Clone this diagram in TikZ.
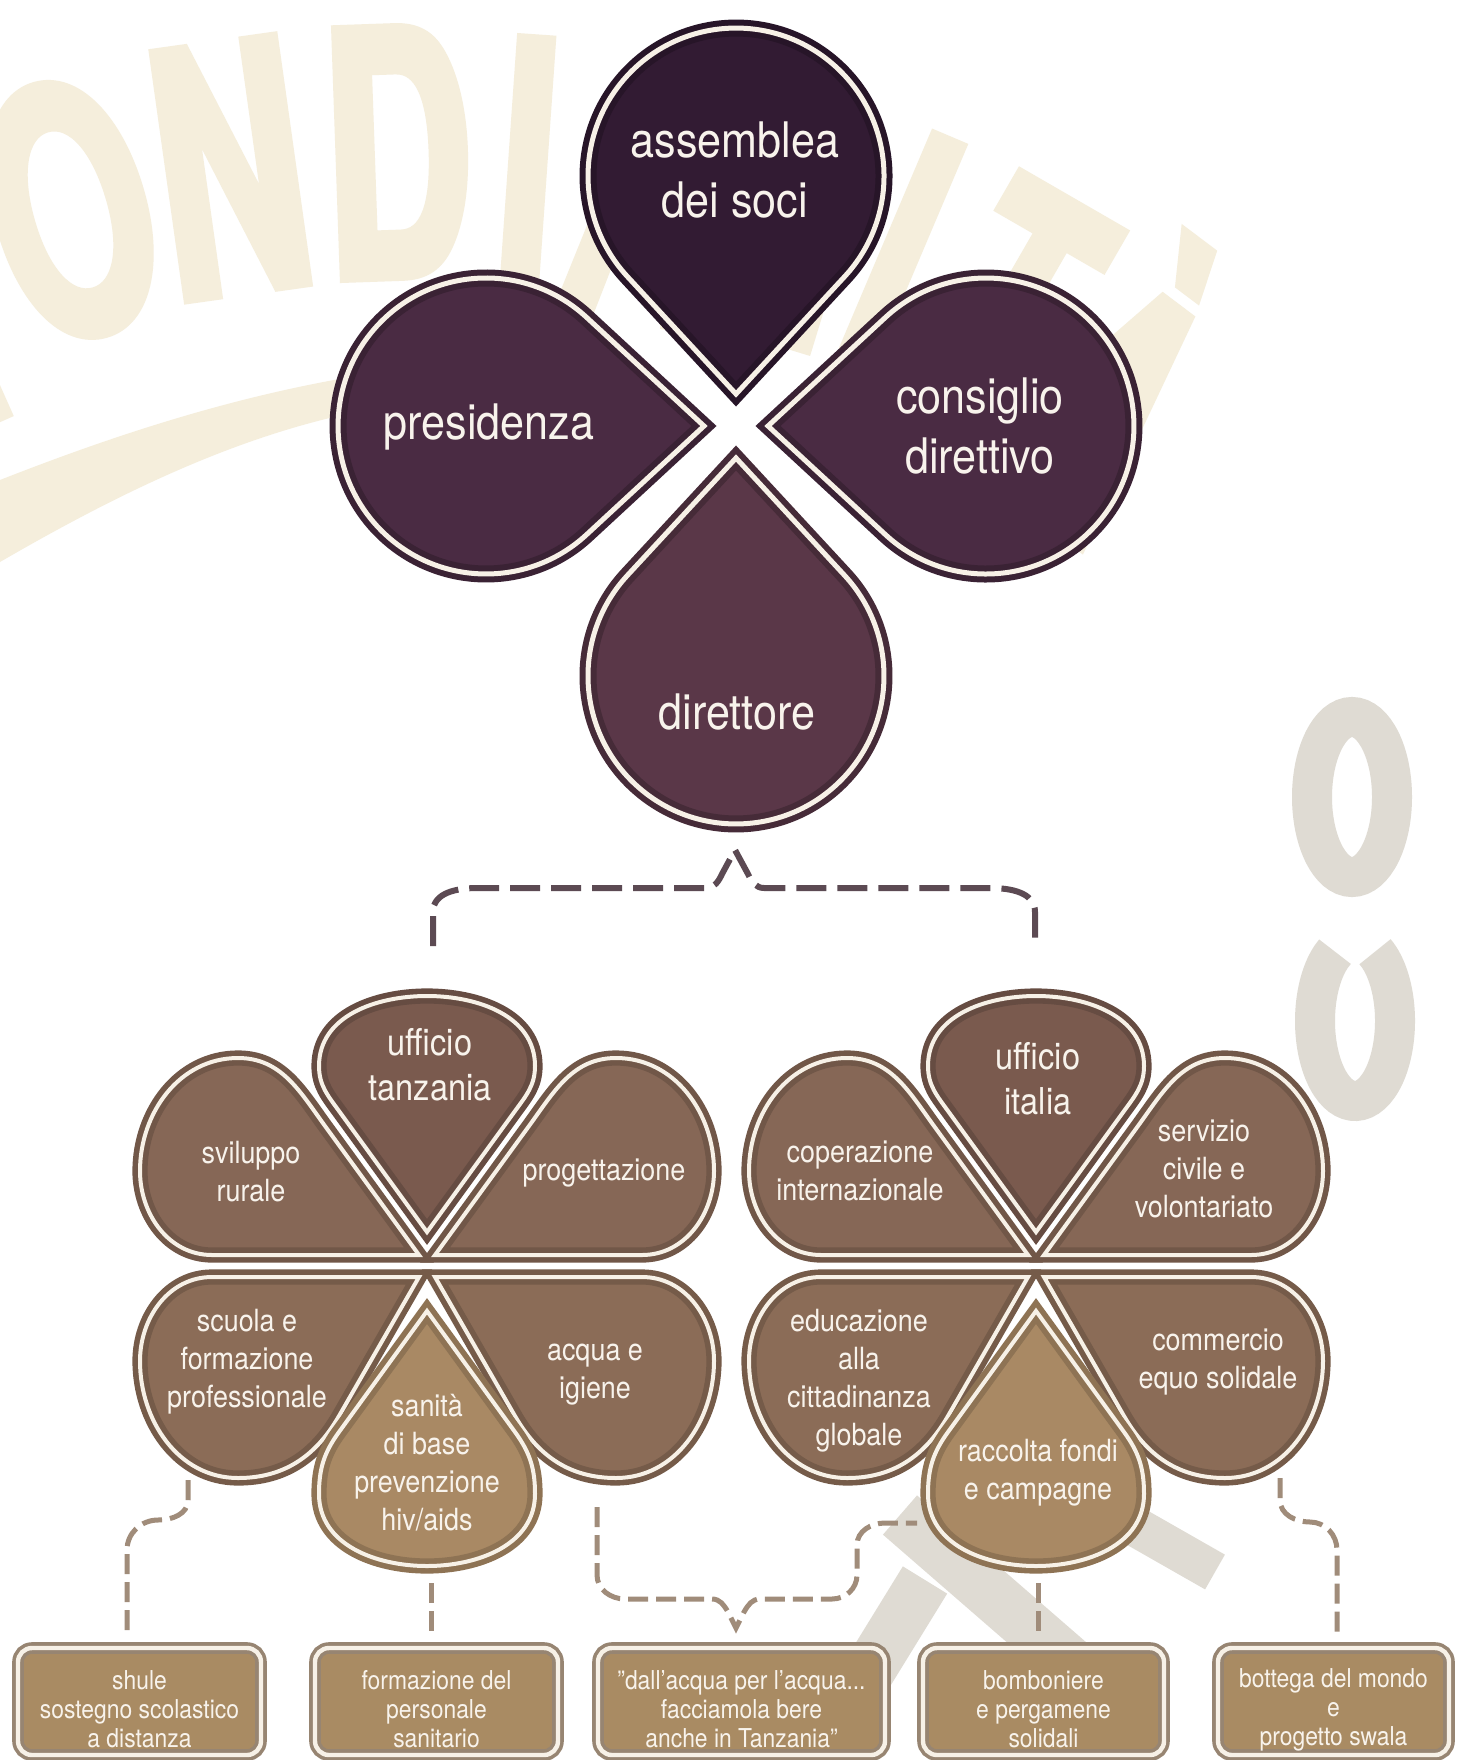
\documentclass[tikz,border=0pt]{standalone}
\usepackage{fontspec}
\setmainfont{TeX Gyre Heros}[FakeStretch=0.88]
\newfontfamily\wmfont{TeX Gyre Heros}[FakeStretch=0.6, FakeBold=2.5]
\usetikzlibrary{calc}

\definecolor{plumA}{HTML}{321B33}
\definecolor{plumB}{HTML}{4A2B43}
\definecolor{plumC}{HTML}{5A3748}
\definecolor{creamL}{HTML}{F7F1E7}
\definecolor{brTop}{HTML}{7A5A4E}
\definecolor{brUp}{HTML}{866756}
\definecolor{brLow}{HTML}{8B6C57}
\definecolor{brBot}{HTML}{A98964}
\definecolor{boxFill}{HTML}{A98B63}
\definecolor{boxLine}{HTML}{978572}
\definecolor{dashTop}{HTML}{5C4A53}
\definecolor{dashBot}{HTML}{A08C7A}
\definecolor{wmCream}{HTML}{F5EEDC}
\definecolor{wmGrey}{HTML}{DFDBD3}
\definecolor{txt}{HTML}{F8F3EC}

\tikzset{
  clov/.style={fill=#1, draw=#1!78!black, line width=3pt, double=creamL, double distance=2.5pt, miter limit=8},
  fpet/.style={fill=#1, draw=#1!84!black, line width=2.8pt, double=creamL, double distance=2pt, miter limit=8},
  boxst/.style={fill=boxFill, draw=boxLine, line width=1.8pt, double=creamL, double distance=2.2pt, rounded corners=7pt, inner sep=0pt},
  bigtxt/.style={text=txt, align=center, inner sep=0pt, font=\fontsize{24.5}{30}\selectfont},
  midtxt/.style={text=txt, align=center, inner sep=0pt, font=\fontsize{18.5}{22.5}\selectfont},
  smtxt/.style={text=txt, align=center, inner sep=0pt, font=\fontsize{15.3}{19}\selectfont},
  boxtxt/.style={text=txt, align=center, inner sep=0pt, font=\fontsize{13}{14.5}\selectfont},
  dashT/.style={draw=dashTop, line width=3pt, dash pattern=on 15pt off 5.5pt},
  dashB/.style={draw=dashBot, line width=2.5pt, dash pattern=on 10pt off 4pt},
  wmC/.style={text=wmCream, inner sep=0pt, font=\wmfont\bfseries\fontsize{171}{171}\selectfont},
}

% six petals of a lower flower, drawn around the current origin
\newcommand{\flowerpetals}[4]{%
  % top
  \draw[fpet=#1] (0,34) -- (88,155) to[out=54,in=-90] (108,200) to[out=90,in=0] (0,270)
        to[out=180,in=90] (-108,200) to[out=-90,in=126] (-88,155) -- cycle;
  % upper right / upper left
  \draw[fpet=#2] (8,11) -- (215,11) to[out=0,in=-90] (287,95) to[out=90,in=0] (189,208)
        to[out=180,in=54] (102,140) -- cycle;
  \draw[fpet=#2] (-8,11) -- (-215,11) to[out=180,in=-90] (-287,95) to[out=90,in=180] (-189,208)
        to[out=0,in=126] (-102,140) -- cycle;
  % lower right / lower left
  \draw[fpet=#3] (8,-11) -- (215,-11) to[out=0,in=90] (287,-95) to[out=-90,in=0] (189,-212)
        to[out=180,in=-60] (88,-150) -- cycle;
  \draw[fpet=#3] (-8,-11) -- (-215,-11) to[out=180,in=90] (-287,-95) to[out=-90,in=180] (-189,-212)
        to[out=0,in=-120] (-88,-150) -- cycle;
  % bottom
  \draw[fpet=#4] (0,-45) -- (88,-166) to[out=-54,in=90] (108,-228) to[out=-90,in=0] (0,-300)
        to[out=180,in=-90] (-108,-228) to[out=90,in=-126] (-88,-166) -- cycle;
}

\begin{document}
\begin{tikzpicture}[x=0.5pt,y=0.5pt]
\useasboundingbox (0,0) rectangle (1466,-1760);
\clip (0,0) rectangle (1466,-1760);
\fill[white] (0,0) rectangle (1466,-1760);

% ---------- watermark ----------
\fill[wmCream] (0,-480) .. controls (140,-425) and (280,-382) .. (430,-366)
   -- (440,-400) .. controls (290,-412) and (150,-475) .. (0,-562) -- cycle;
\node[wmC, rotate=24] (wmM) at (-110,-330) {M};
\node[wmC, rotate=16] (wmO) at (70,-210) {O};
\node[wmC, rotate=8] (wmN) at (230,-168) {N};
\node[wmC, rotate=2] (wmD) at (398,-152) {D};
\node[wmC, rotate=-4] (wmI) at (528,-163) {I};
\node[wmC, rotate=-10] (wmA) at (648,-196) {A};
\node[wmC, rotate=-17] (wmL) at (790,-215) {L};
\node[wmC, rotate=-23] (wmIb) at (900,-255) {I};
\node[wmC, rotate=-30] (wmT) at (1010,-310) {T};
\node[wmC, rotate=-37] (wmAa) at (1120,-380) {À};
\draw[wmGrey, line width=20pt] (1352,-797) ellipse [x radius=40, y radius=80];
\draw[wmGrey, line width=20pt] (1335,-951.7) arc[start angle=120, end angle=420, x radius=40, y radius=80];
\draw[wmGrey, line width=26pt] (900,-1515) -- (1090,-1680);
\draw[wmGrey, line width=20pt] (1115,-1515) -- (1215,-1572);
\draw[wmGrey, line width=26pt] (845,-1710) -- (925,-1580);

% ---------- top clover ----------
\begin{scope}[shift={(736,-426)}]
  \draw[clov=plumA] (0,32) -- (108.6,149.4) arc[start angle=-42.8, end angle=222.8, radius=148] -- cycle;
  \draw[clov=plumB] (-32,0) -- (-149.4,108.6) arc[start angle=47.2, end angle=312.8, radius=148] -- cycle;
  \draw[clov=plumB] (32,0) -- (149.4,-108.6) arc[start angle=-132.8, end angle=132.8, radius=148] -- cycle;
  \draw[clov=plumC] (0,-32) -- (-108.6,-149.4) arc[start angle=137.2, end angle=402.8, radius=148] -- cycle;
\end{scope}
\node[bigtxt] (tAss) at (735,-170) {assemblea\\dei soci};
\node[bigtxt] (tPres) at (489,-427) {presidenza};
\node[bigtxt] (tCons) at (980,-426) {consiglio\\direttivo};
\node[bigtxt] (tDir) at (737,-712) {direttore};

% ---------- lower flowers ----------
\begin{scope}[shift={(427,-1266)}]
  \flowerpetals{brTop}{brUp}{brLow}{brBot}
\end{scope}
\begin{scope}[shift={(1036,-1266)}]
  \flowerpetals{brTop}{brUp}{brLow}{brBot}
\end{scope}

\node[midtxt] (tUT) at (430,-1065) {ufficio\\tanzania};
\node[smtxt] (tSR) at (251,-1172) {sviluppo\\rurale};
\node[smtxt] (tPr) at (604,-1173) {progettazione};
\node[smtxt] (tSF) at (247,-1362) {scuola e\\formazione\\professionale};
\node[smtxt] (tAI) at (595,-1375) {acqua e\\igiene};
\node[smtxt] (tSa) at (427,-1463) {sanità\\di base\\prevenzione\\hiv/aids};

\node[midtxt] (tUI) at (1038,-1079) {ufficio\\italia};
\node[smtxt] (tCI) at (860,-1171) {coperazione\\internazionale};
\node[smtxt] (tSC) at (1204,-1169) {servizio\\civile e\\volontariato};
\node[smtxt] (tEd) at (859,-1381) {educazione\\alla\\cittadinanza\\globale};
\node[smtxt] (tCo) at (1218,-1362) {commercio\\equo solidale};
\node[smtxt] (tRF) at (1038,-1473) {raccolta fondi\\e campagne};

% ---------- bottom boxes ----------
\node[boxst, minimum width=121.5pt, minimum height=53.5pt] (bx1) at (139.5,-1701.5) {};
\node[boxst, minimum width=121.5pt, minimum height=53.5pt] (bx2) at (436.5,-1701.5) {};
\node[boxst, minimum width=143.5pt, minimum height=53.5pt] (bx3) at (741.5,-1701.5) {};
\node[boxst, minimum width=120.5pt, minimum height=53.5pt] (bx4) at (1043.5,-1701.5) {};
\node[boxst, minimum width=115.5pt, minimum height=53.5pt] (bx5) at (1333.5,-1701.5) {};
\node[boxtxt] (bt1) at ($(bx1.center)+(0,-8)$) {shule\\sostegno scolastico\\a distanza};
\node[boxtxt] (bt2) at ($(bx2.center)+(0,-8)$) {formazione del\\personale\\sanitario};
\node[boxtxt] (bt3) at ($(bx3.center)+(0,-8)$) {"dall'acqua per l'acqua...\\facciamola bere\\anche in Tanzania"};
\node[boxtxt] (bt4) at ($(bx4.center)+(0,-8)$) {bomboniere\\e pergamene\\solidali};
\node[boxtxt] (bt5) at ($(bx5.center)+(0,-8)$) {bottega del mondo\\e\\progetto swala};

% ---------- connectors ----------
\coordinate (dirBot) at (735,-850);
\coordinate (tzTop) at (433,-946);
\coordinate (itTop) at (1035,-946);
\draw[dashT] (tzTop) -- (433,-912) to[out=90,in=180] (478,-888) -- (706,-888)
   to[out=0,in=-115] (722,-874) -- (dirBot) -- (748,-874) to[out=-65,in=180] (764,-888)
   -- (990,-888) to[out=0,in=90] (1035,-912) -- (itTop);

\coordinate (k1a) at (188,-1480);
\coordinate (k1b) at (127,-1632);
\draw[dashB] (k1a) -- (188,-1500) to[out=-90,in=0] (158,-1520) to[out=180,in=90] (127,-1550) -- (k1b);

\coordinate (k2a) at (431,-1583);
\coordinate (k2b) at (431,-1632);
\draw[dashB] (k2a) -- (k2b);

\coordinate (k3a) at (597,-1507);
\coordinate (k3v) at (736,-1628);
\coordinate (k3b) at (917,-1523);
\draw[dashB] (k3a) -- (597,-1575) to[out=-90,in=180] (625,-1599) -- (712,-1599)
   to[out=0,in=120] (728,-1612) -- (k3v) -- (744,-1612) to[out=60,in=180] (760,-1599)
   -- (832,-1599) to[out=0,in=-90] (857,-1575) -- (857,-1545) to[out=90,in=180] (885,-1523) -- (k3b);

\coordinate (k4a) at (1038,-1583);
\coordinate (k4b) at (1038,-1632);
\draw[dashB] (k4a) -- (k4b);

\coordinate (k5a) at (1280,-1478);
\coordinate (k5b) at (1337,-1632);
\draw[dashB] (k5a) -- (1280,-1500) to[out=-90,in=180] (1310,-1522) to[out=0,in=90] (1337,-1550) -- (k5b);
\end{tikzpicture}
\end{document}
